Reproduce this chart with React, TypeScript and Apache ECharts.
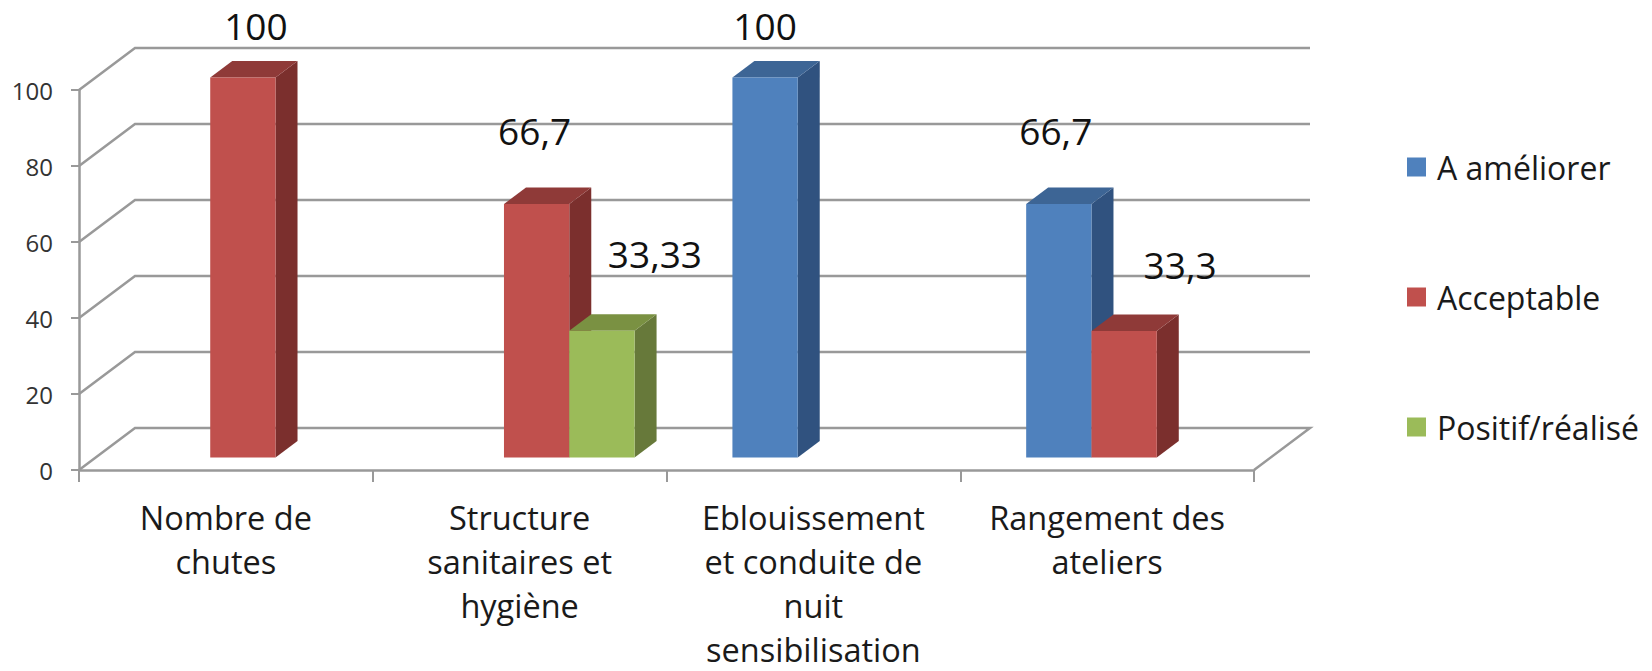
import React, { useEffect, useRef } from "react";
import * as echarts from "echarts";

const categories = [
  "Nombre de\nchutes",
  "Structure\nsanitaires et\nhygiène",
  "Eblouissement\net conduite de\nnuit\nsensibilisation",
  "Rangement des\nateliers",
];
const aAmeliorer = [null, null, 100, 66.7];
const acceptable = [100, 66.7, null, 33.3];
const positif = [null, 33.33, null, null];
const axisTicks = [0, 20, 40, 60, 80, 100];
const seriesNames = ["A améliorer", "Acceptable", "Positif/réalisé"];

const aAmeliorerLabels = [null, null, "100", "66,7"];
const acceptableLabels = ["100", "66,7", null, "33,3"];
const positifLabels = [null, "33,33", null, null];

// label nudges in px from the bar's front-top centre, [dx, dy]
const aAmeliorerNudge = [null, null, [0, -52], [-3, -74]];
const acceptableNudge = [[13, -52], [-2, -74], null, [56, -66]];
const positifNudge = [null, [53, -77], null, null];

const FONT = "'Open Sans'";
const GRID = "#999999";
const BACK_DX = 56;
const BACK_DY = -42;
const BAR_DX = 17;
const BAR_DY = -12.5;
const DEPTH_DX = 22;
const DEPTH_DY = -16.5;
const SLOT_SHARE = 65.3 / 293.75;

function barSeries(
  name: string,
  slot: number,
  values: (number | null)[],
  labels: (string | null)[],
  nudges: (number[] | null)[],
  front: string,
  top: string,
  side: string
) {
  const data = values
    .map((v, i) => (v === null ? null : [i, v]))
    .filter((d) => d !== null);
  return {
    type: "custom",
    name,
    z: 3,
    clip: false,
    itemStyle: { color: front },
    encode: { x: 0, y: 1 },
    data,
    renderItem: (_params: any, api: any) => {
      const idx = api.value(0);
      const val = api.value(1);
      const band = api.size([1, 0])[0];
      const w = band * SLOT_SHARE;
      const c = api.coord([idx, val]);
      const b = api.coord([idx, 0]);
      const x0 = c[0] + BAR_DX + (slot - 1.5) * w;
      const x1 = x0 + w;
      const yT = c[1] + BAR_DY;
      const yB = b[1] + BAR_DY;
      const children: any[] = [
        {
          type: "polygon",
          shape: {
            points: [
              [x1, yT],
              [x1 + DEPTH_DX, yT + DEPTH_DY],
              [x1 + DEPTH_DX, yB + DEPTH_DY],
              [x1, yB],
            ],
          },
          style: { fill: side },
        },
        {
          type: "polygon",
          shape: {
            points: [
              [x0, yT],
              [x0 + DEPTH_DX, yT + DEPTH_DY],
              [x1 + DEPTH_DX, yT + DEPTH_DY],
              [x1, yT],
            ],
          },
          style: { fill: top },
        },
        {
          type: "rect",
          shape: { x: x0, y: yT, width: w, height: yB - yT },
          style: { fill: front },
        },
      ];
      const n = nudges[idx];
      const t = labels[idx];
      if (n && t) {
        children.push({
          type: "text",
          x: (x0 + x1) / 2 + n[0],
          y: yT + n[1],
          style: {
            text: t,
            font: `37px ${FONT}`,
            fill: "#111111",
            align: "center",
            verticalAlign: "middle",
          },
        });
      }
      return { type: "group", children };
    },
  };
}

export default function App() {
  const ref = useRef<HTMLDivElement>(null);
  useEffect(() => {
    const chart = echarts.init(ref.current!, null, { renderer: "svg" });
    chart.setOption({
      animation: false,
      backgroundColor: "#ffffff",
      grid: { left: 79, right: 398, top: 90, bottom: 201, outerBoundsMode: "none" },
      legend: {
        orient: "vertical",
        left: 1402,
        top: 146,
        data: seriesNames.map((name) => ({ name, icon: "rect" })),
        itemWidth: 19,
        itemHeight: 19,
        itemGap: 98,
        selectedMode: false,
        textStyle: {
          fontFamily: FONT,
          fontSize: 32,
          lineHeight: 32,
          color: "#1a1a1a",
          padding: [0, 0, 0, 6],
        },
      },
      xAxis: {
        type: "category",
        data: categories,
        axisLine: { lineStyle: { color: GRID, width: 2.5 } },
        axisTick: { show: true, length: 12, alignWithLabel: false, interval: 0, lineStyle: { color: GRID, width: 2 } },
        axisLabel: {
          interval: 0,
          fontFamily: FONT,
          fontSize: 32.5,
          lineHeight: 44,
          color: "#1a1a1a",
          margin: 25,
        },
      },
      yAxis: {
        type: "value",
        min: 0,
        max: 100,
        interval: 20,
        splitLine: { show: false },
        axisLine: { show: true, lineStyle: { color: GRID, width: 2.5 } },
        axisTick: { show: true, length: 8, lineStyle: { color: GRID, width: 2 } },
        axisLabel: {
          fontFamily: FONT,
          fontSize: 24,
          color: "#333333",
          margin: 26,
          padding: [8, 0, 0, 0],
        },
      },
      series: [
        {
          type: "custom",
          name: "wall",
          z: 1,
          clip: false,
          silent: true,
          encode: { x: 0, y: 1 },
          data: axisTicks.map((v) => [0, v]),
          renderItem: (params: any, api: any) => {
            const cs = params.coordSys;
            const y = api.coord([0, api.value(1)])[1];
            const right = cs.x + cs.width;
            const pts = [
              [cs.x, y],
              [cs.x + BACK_DX, y + BACK_DY],
              [right + BACK_DX, y + BACK_DY],
            ];
            if (api.value(1) === 0) pts.push([right, y]);
            return {
              type: "polyline",
              shape: { points: pts },
              style: { stroke: GRID, lineWidth: 2.5, fill: "none" },
            };
          },
        },
        barSeries(seriesNames[0], 0, aAmeliorer, aAmeliorerLabels, aAmeliorerNudge, "#4f81bd", "#3d6595", "#30527f"),
        barSeries(seriesNames[1], 1, acceptable, acceptableLabels, acceptableNudge, "#c0504d", "#8f3a38", "#7b2f2d"),
        barSeries(seriesNames[2], 2, positif, positifLabels, positifNudge, "#9bbb59", "#7a9142", "#67793a"),
      ],
    });
    return () => chart.dispose();
  }, []);
  return (
    <div
      ref={ref}
      style={{ position: "fixed", left: 0, top: 0, width: 1652, height: 671 }}
    />
  );
}
